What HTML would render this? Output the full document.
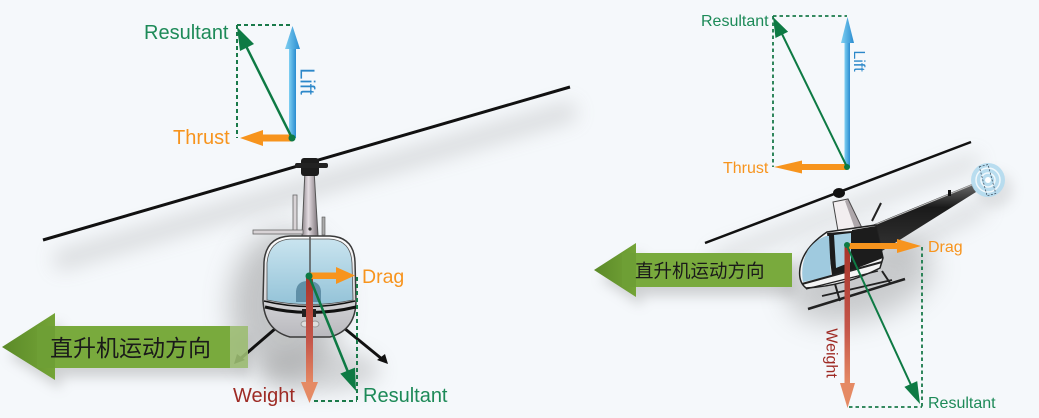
<!DOCTYPE html>
<html>
<head>
<meta charset="utf-8">
<style>
  html,body{margin:0;padding:0;background:#f5f8fb;}
  svg{display:block;}
  .lat{font-family:"Liberation Sans",Arial,sans-serif;}
  .cjk{font-family:"Liberation Sans","Noto Sans CJK SC","WenQuanYi Zen Hei",sans-serif;}
</style>
</head>
<body>
<svg width="1039" height="418" viewBox="0 0 1039 418" xmlns="http://www.w3.org/2000/svg">
  <defs>
    <filter id="b6" x="-50%" y="-50%" width="200%" height="200%"><feGaussianBlur stdDeviation="6"/></filter>
    <filter id="b10" x="-50%" y="-50%" width="200%" height="200%"><feGaussianBlur stdDeviation="10"/></filter>
    <filter id="b14" x="-50%" y="-50%" width="200%" height="200%"><feGaussianBlur stdDeviation="14"/></filter>
    <linearGradient id="lift" x1="0" y1="0" x2="1" y2="0">
      <stop offset="0" stop-color="#7fd0f2"/><stop offset="1" stop-color="#2a8cd0"/>
    </linearGradient>
    <linearGradient id="wt" x1="0" y1="0" x2="0" y2="1">
      <stop offset="0" stop-color="#a8342a"/><stop offset="0.6" stop-color="#c5564a"/><stop offset="1" stop-color="#e58a64"/>
    </linearGradient>
    <linearGradient id="ghead" x1="0" y1="0" x2="1" y2="0">
      <stop offset="0" stop-color="#5b8a28"/><stop offset="1" stop-color="#74a437"/>
    </linearGradient>
    <linearGradient id="glass" x1="0" y1="0" x2="0" y2="1">
      <stop offset="0" stop-color="#c9e4ef"/><stop offset="1" stop-color="#94c3d8"/>
    </linearGradient>
    <linearGradient id="lower" x1="0" y1="0" x2="0" y2="1">
      <stop offset="0" stop-color="#ffffff"/><stop offset="1" stop-color="#b9b9be"/>
    </linearGradient>
    <linearGradient id="mast" x1="0" y1="0" x2="1" y2="0">
      <stop offset="0" stop-color="#8d8489"/><stop offset="0.4" stop-color="#e4dde2"/><stop offset="1" stop-color="#7a7177"/>
    </linearGradient>
    <linearGradient id="boom" x1="0" y1="0" x2="0" y2="1">
      <stop offset="0" stop-color="#6a6a6a"/><stop offset="0.35" stop-color="#1a1a1a"/><stop offset="1" stop-color="#333"/>
    </linearGradient>
  </defs>

  <rect x="0" y="0" width="1039" height="418" fill="#f5f8fb"/>

  <!-- ================= LEFT ================= -->
  <line x1="55" y1="262" x2="575" y2="110" stroke="#8a8a8a" stroke-width="18" opacity="0.28" filter="url(#b10)"/>
  <ellipse cx="285" cy="305" rx="55" ry="75" fill="#777" opacity="0.4" filter="url(#b14)"/>
  <ellipse cx="320" cy="370" rx="60" ry="22" fill="#888" opacity="0.3" filter="url(#b10)"/>
  <polygon points="8,356 61,322 61,335 250,335 250,377 61,377 61,389" fill="#888" opacity="0.35" filter="url(#b6)"/>

  <line x1="43" y1="240" x2="570" y2="87" stroke="#111" stroke-width="3"/>

  <polygon points="305,170 314,170 318,236 302,236" fill="url(#mast)" stroke="#555" stroke-width="1"/>
  <rect x="301" y="158" width="18" height="18" rx="3" fill="#1c1c1c"/>
  <rect x="295" y="163" width="33" height="5" rx="2" fill="#222"/>
  <circle cx="310" cy="229" r="1.6" fill="#333"/>
  <rect x="293" y="195" width="4" height="37" fill="#d8d3d6" stroke="#666" stroke-width="0.8"/>
  <rect x="253" y="230" width="50" height="4" fill="#d8d3d6" stroke="#666" stroke-width="0.8"/>
  <rect x="322" y="217" width="3" height="18" fill="#aaa" stroke="#555" stroke-width="0.6"/>

  <line x1="276" y1="328" x2="240" y2="359" stroke="#111" stroke-width="3"/>
  <polygon points="234,364 237,354 245,360" fill="#111"/>
  <line x1="344" y1="328" x2="382" y2="359" stroke="#111" stroke-width="3"/>
  <polygon points="388,364 377,360 385,354" fill="#111"/>

  <path d="M263 300 L264 262 Q266 237 290 236 L330 236 Q354 237 355 262 L356 300 Q356 330 330 337 L290 337 Q264 330 263 300 Z" fill="url(#lower)" stroke="#3a3a3a" stroke-width="1.5"/>
  <path d="M267 300 L267 263 Q269 240 291 239 L329 239 Q351 240 352 263 L353 300 Q310 309 267 300 Z" fill="url(#glass)" stroke="#555" stroke-width="0.8"/>
  <path d="M296 302 L296 291 Q297 281 308 281 Q320 281 321 291 L321 302 Z" fill="#55859d" opacity="0.85"/>
  <line x1="310" y1="236" x2="310" y2="304" stroke="#555" stroke-width="1.5"/>
  <path d="M264 301 Q310 312 355 301" fill="none" stroke="#111" stroke-width="1.5"/>
  <path d="M265 307 Q310 318 356 307" fill="none" stroke="#111" stroke-width="3"/>
  <rect x="302" y="309" width="14" height="8" fill="#222"/>
  <ellipse cx="305" cy="324" rx="4" ry="3" fill="#ddd" stroke="#999" stroke-width="1"/>
  <ellipse cx="315" cy="324" rx="4" ry="3" fill="#ddd" stroke="#999" stroke-width="1"/>

  <rect x="230" y="326" width="18" height="42" fill="#9cbc72" opacity="0.9"/>
  <rect x="37" y="326" width="193" height="42" fill="#79aa3d"/>
  <polygon points="2,347 55,313 55,380" fill="url(#ghead)"/>
  <rect x="37" y="326" width="18" height="42" fill="#6e9f35"/>
  <text x="50" y="356" class="cjk" font-size="23" fill="#1a1a1a">直升机运动方向</text>

  <g stroke="#1a7a4a" stroke-width="2" stroke-dasharray="4,3" fill="none">
    <line x1="237" y1="25" x2="293" y2="25"/>
    <line x1="237" y1="25" x2="237" y2="138"/>
  </g>
  <rect x="289" y="46" width="7" height="92" fill="url(#lift)"/>
  <polygon points="292.5,26 285,49 300,49" fill="url(#lift)"/>
  <rect x="260" y="134.5" width="32" height="7" fill="#f7941d"/>
  <polygon points="240,138 263,130 263,146" fill="#f7941d"/>
  <line x1="292" y1="138" x2="246" y2="46" stroke="#0e7a44" stroke-width="2.5"/>
  <polygon points="237,27 254,44 240,51" fill="#0e7a44"/>
  <circle cx="292" cy="138" r="3.5" fill="#0e7a44"/>
  <text x="144" y="39" class="lat" font-size="20" fill="#1d8a58">Resultant</text>
  <text x="173" y="144" class="lat" font-size="20" fill="#f7941d">Thrust</text>
  <text transform="translate(307.5,81.5) rotate(90)" text-anchor="middle" dy="7" class="lat" font-size="20" fill="#2b87c9">Lift</text>

  <g stroke="#1a7a4a" stroke-width="2" stroke-dasharray="4,3" fill="none">
    <line x1="357" y1="277" x2="357" y2="401"/>
    <line x1="314" y1="401" x2="357" y2="401"/>
  </g>
  <rect x="306" y="276" width="7" height="108" fill="url(#wt)"/>
  <polygon points="309.5,403 301,382 318,382" fill="#e58a64"/>
  <rect x="310" y="272.5" width="28" height="6.5" fill="#f7941d"/>
  <polygon points="355,275.5 336,267 336,284" fill="#f7941d"/>
  <line x1="309" y1="276" x2="348" y2="372" stroke="#0e7a44" stroke-width="2.5"/>
  <polygon points="356,391 355,367.6 340.3,373.6" fill="#0e7a44"/>
  <circle cx="309" cy="276" r="3.5" fill="#0e7a44"/>
  <text x="362" y="283" class="lat" font-size="19.5" fill="#f7941d">Drag</text>
  <text x="233" y="402" class="lat" font-size="20" fill="#9e2b25">Weight</text>
  <text x="363" y="402" class="lat" font-size="20" fill="#1d8a58">Resultant</text>

  <!-- ================= RIGHT ================= -->
  <line x1="712" y1="260" x2="978" y2="160" stroke="#8a8a8a" stroke-width="14" opacity="0.25" filter="url(#b10)"/>
  <ellipse cx="860" cy="280" rx="75" ry="40" fill="#777" opacity="0.35" filter="url(#b14)" transform="rotate(-15 860 280)"/>
  <line x1="890" y1="255" x2="985" y2="205" stroke="#888" stroke-width="16" opacity="0.25" filter="url(#b10)"/>
  <circle cx="995" cy="190" r="18" fill="#888" opacity="0.2" filter="url(#b6)"/>
  <polygon points="600,279 642,252 642,262 796,262 796,296 642,296 642,306" fill="#888" opacity="0.35" filter="url(#b6)"/>

  <line x1="705" y1="243" x2="971" y2="142" stroke="#111" stroke-width="2.5"/>

  <polygon points="870,226 972,184 976,192 882,251" fill="url(#boom)"/>
  <line x1="872" y1="226" x2="972" y2="185" stroke="#bbb" stroke-width="1"/>
  <rect x="948" y="190" width="3" height="6" fill="#111"/>
  <circle cx="988" cy="180" r="17" fill="#b3daee" opacity="0.9"/>
  <circle cx="988" cy="180" r="12" fill="none" stroke="#fff" stroke-width="1.5" opacity="0.8"/>
  <circle cx="988" cy="180" r="7" fill="none" stroke="#fff" stroke-width="1.5" opacity="0.8"/>
  <rect x="983" y="165" width="9" height="30" fill="none" stroke="#456" stroke-width="0.8" stroke-dasharray="2,1.5" transform="rotate(-15 988 180)"/>
  <circle cx="988" cy="180" r="3" fill="#fff"/>

  <!-- pylon -->
  <polygon points="833,202 848,199 862,228 838,231" fill="#f2eef0" stroke="#444" stroke-width="1"/>
  <polygon points="848,199 862,228 855,229 845,201" fill="#6a6066" opacity="0.5"/>
  <ellipse cx="839" cy="193" rx="6" ry="5" fill="#111"/>
  <line x1="872" y1="221" x2="881" y2="203" stroke="#222" stroke-width="2"/>

  <!-- skids -->
  <line x1="808" y1="309" x2="905" y2="279" stroke="#222" stroke-width="2.5"/>
  <line x1="822" y1="296" x2="892" y2="280" stroke="#222" stroke-width="1.8"/>
  <line x1="835" y1="284" x2="840" y2="301" stroke="#222" stroke-width="2"/>
  <line x1="882" y1="271" x2="890" y2="283" stroke="#222" stroke-width="2"/>

  <!-- cabin -->
  <path d="M827 232 L876 225 L883 258 L880 268 Q845 286 806 288 Q798 282 800 268 Q803 248 827 232 Z" fill="#f4f4f4" stroke="#222" stroke-width="1.5"/>
  <polygon points="827,233 852,231 852,270 832,276" fill="#1c1c1c"/>
  <path d="M826 236 L829 236 L831 276 L803 282 Q800 265 808 250 Q815 240 826 236 Z" fill="#9fcadf"/>
  <polygon points="834,235 851,233 851,262 836,268" fill="#a6cfe2"/>
  <polygon points="852,230 876,226 883,258 852,270" fill="#1c1c1c"/>
  <line x1="802" y1="284" x2="882" y2="262" stroke="#222" stroke-width="2"/>
  <line x1="806" y1="289" x2="878" y2="271" stroke="#222" stroke-width="1.2"/>

  <rect x="622" y="253" width="170" height="34" fill="#79aa3d"/>
  <polygon points="594,270 636,243 636,297" fill="url(#ghead)"/>
  <rect x="622" y="253" width="14" height="34" fill="#6e9f35"/>
  <text x="635" y="277.5" class="cjk" font-size="18.5" fill="#1a1a1a">直升机运动方向</text>

  <g stroke="#1a7a4a" stroke-width="1.8" stroke-dasharray="3.5,3" fill="none">
    <line x1="773" y1="16" x2="847" y2="16"/>
    <line x1="773" y1="16" x2="773" y2="167"/>
  </g>
  <rect x="844.5" y="40" width="5.5" height="127" fill="url(#lift)"/>
  <polygon points="847.5,17 841,43 854,43" fill="url(#lift)"/>
  <rect x="800" y="164" width="47" height="6" fill="#f7941d"/>
  <polygon points="774,167 802,160.5 802,173.5" fill="#f7941d"/>
  <line x1="847" y1="167" x2="782" y2="34" stroke="#0e7a44" stroke-width="2"/>
  <polygon points="773,17 788.1,31.8 775.5,38" fill="#0e7a44"/>
  <circle cx="847" cy="167" r="3" fill="#0e7a44"/>
  <text x="701" y="26" class="lat" font-size="16" fill="#1d8a58">Resultant</text>
  <text x="723" y="173" class="lat" font-size="16" fill="#f7941d">Thrust</text>
  <text transform="translate(859.5,61) rotate(90)" text-anchor="middle" dy="5.6" class="lat" font-size="16" fill="#2b87c9">Lift</text>

  <g stroke="#1a7a4a" stroke-width="1.8" stroke-dasharray="3.5,3" fill="none">
    <line x1="922" y1="247" x2="922" y2="407"/>
    <line x1="849" y1="407" x2="922" y2="407"/>
  </g>
  <rect x="844.5" y="246" width="5.5" height="138" fill="url(#wt)"/>
  <polygon points="847.5,408 840,383 855,383" fill="#e58a64"/>
  <rect x="847" y="243" width="51" height="6" fill="#f7941d"/>
  <polygon points="921,246 897,239 897,253" fill="#f7941d"/>
  <line x1="847" y1="246" x2="911" y2="385" stroke="#0e7a44" stroke-width="2"/>
  <polygon points="920,404 917.2,381.1 904.4,386.9" fill="#0e7a44"/>
  <circle cx="847" cy="245" r="3" fill="#0e7a44"/>
  <text x="928" y="252" class="lat" font-size="16" fill="#f7941d">Drag</text>
  <text x="928" y="408" class="lat" font-size="16" fill="#1d8a58">Resultant</text>
  <text transform="translate(832,353) rotate(90)" text-anchor="middle" dy="5.6" class="lat" font-size="16" fill="#9e2b25">Weight</text>
</svg>
</body>
</html>
